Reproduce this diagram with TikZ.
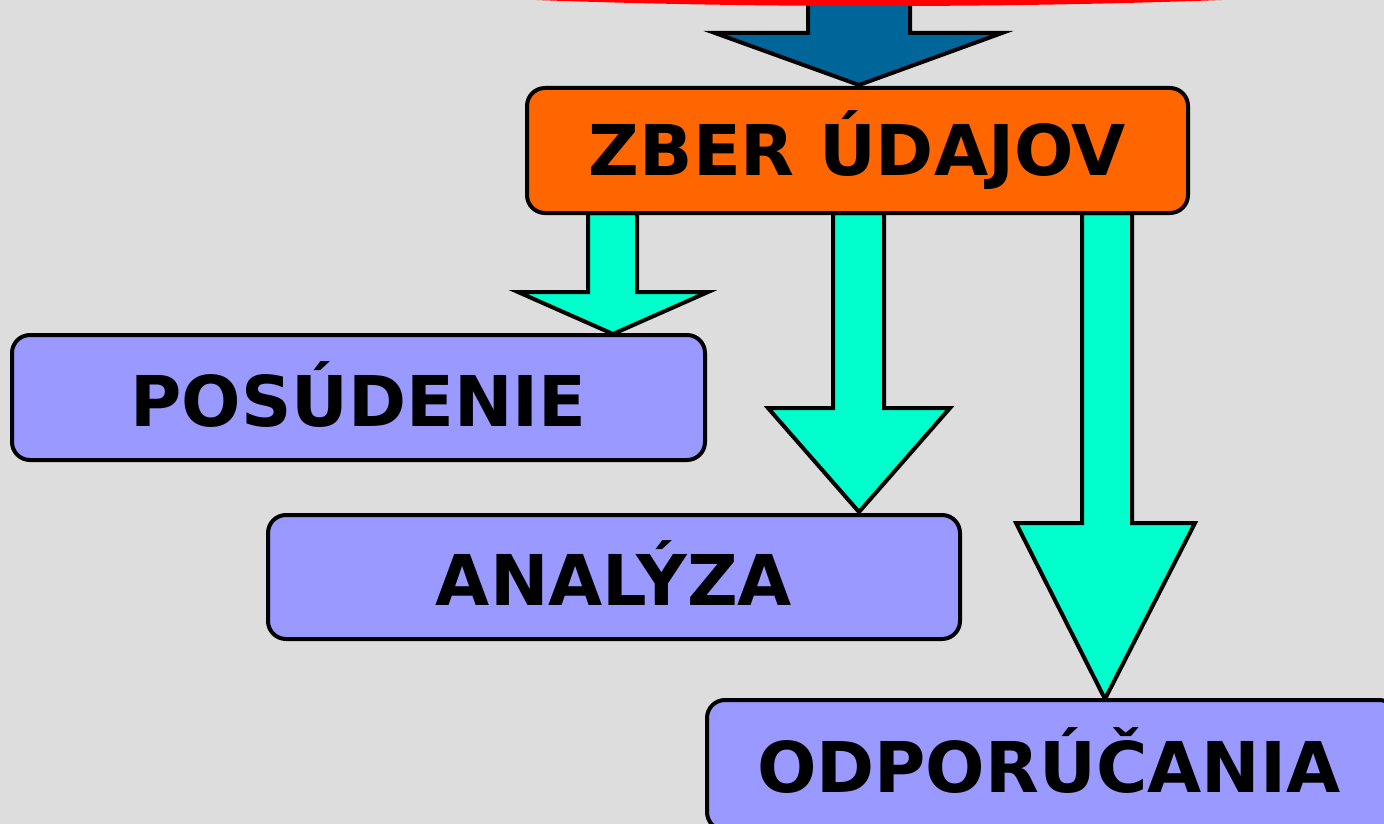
\documentclass[tikz,border=0pt]{standalone}
\usepackage{fontspec}
\setmainfont{DejaVu Sans}
\begin{document}
\begin{tikzpicture}[x=1pt,y=-1pt,
  boxstyle/.style={draw=black,line width=4pt,rounded corners=18pt,inner sep=0pt,
    font=\fontsize{70}{70}\selectfont\bfseries,text=black},
  orangebox/.style={boxstyle,fill=orangefill},
  purplebox/.style={boxstyle,fill=purplefill},
  cyanarrow/.style={draw=black,line width=4pt,line join=miter,fill=cyanfill},
  bluearrow/.style={draw=black,line width=4pt,line join=miter,fill=bluefill}]
\definecolor{bgfill}{HTML}{DDDDDD}
\definecolor{orangefill}{HTML}{FF6600}
\definecolor{purplefill}{HTML}{9999FF}
\definecolor{cyanfill}{HTML}{00FFCC}
\definecolor{bluefill}{HTML}{006699}
\definecolor{redfill}{HTML}{FF0000}
\useasboundingbox (0,0) rectangle (1384,824);
\clip (0,0) rectangle (1384,824);
\fill[bgfill] (0,0) rectangle (1384,824);
% blue arrow from above
\draw[bluearrow] (808,-10) -- (808,33) -- (715,33) -- (859,85) -- (1002,33) -- (910,33) -- (910,-10) -- cycle;
% red ellipse at top
\fill[redfill] (879,-100) ellipse [x radius=1033, y radius=106];
% cyan arrows
\draw[cyanarrow] (588,213) -- (588,292) -- (518,292) -- (613,334) -- (708,292) -- (637,292) -- (637,213) -- cycle;
\draw[cyanarrow] (833,213) -- (833,408) -- (768,408) -- (859,512) -- (950,408) -- (884,408) -- (884,213) -- cycle;
\draw[cyanarrow] (1082,213) -- (1082,523) -- (1016,523) -- (1105,699) -- (1195,523) -- (1132,523) -- (1132,213) -- cycle;
% boxes
\node[orangebox,minimum width=661pt,minimum height=125pt] (zber) at (857.5,150.5) {\raisebox{-2pt}{ZBER ÚDAJOV}};
\node[purplebox,minimum width=693pt,minimum height=125pt] (posudenie) at (358.5,397.5) {\raisebox{6pt}{POSÚDENIE}};
\node[purplebox,minimum width=692pt,minimum height=124pt] (analyza) at (614,577) {\raisebox{7pt}{ANALÝZA}};
\node[purplebox,minimum width=690pt,minimum height=130pt,text width=690pt,align=left] (odporucania) at (1052,765) {\hspace{50pt}\raisebox{10pt}{ODPORÚČANIA}};
\end{tikzpicture}
\end{document}
